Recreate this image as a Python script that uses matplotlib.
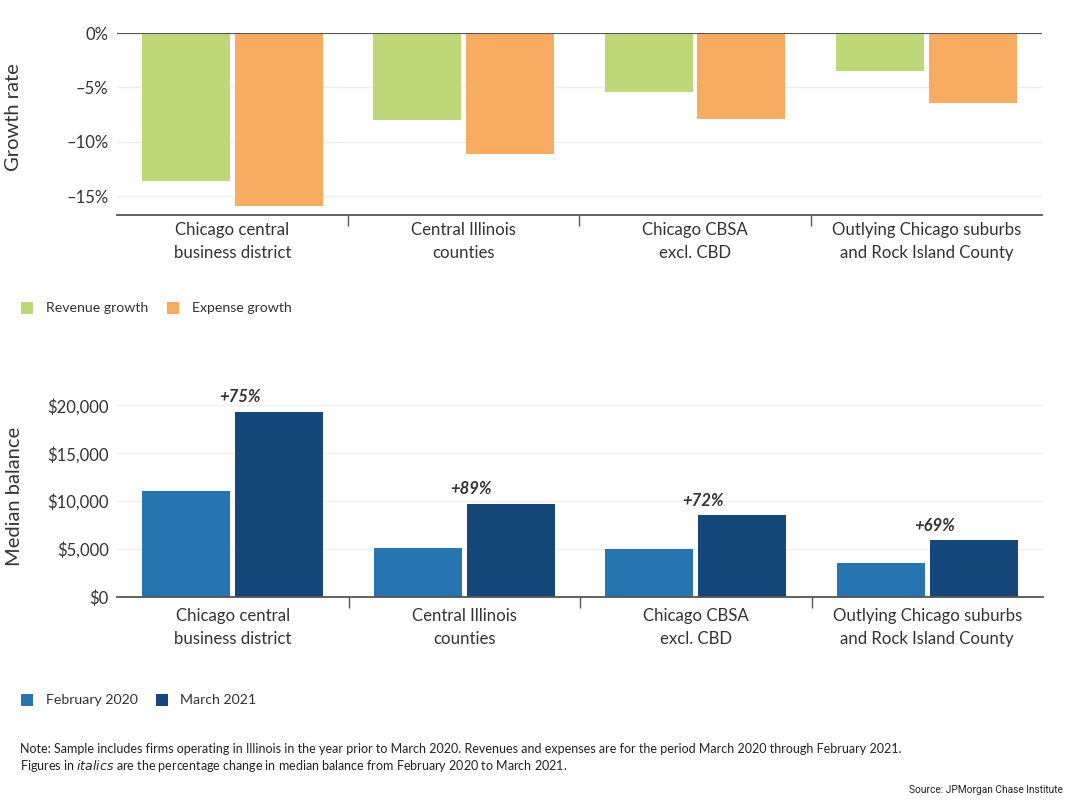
import matplotlib
matplotlib.use("Agg")
import matplotlib.pyplot as plt
from matplotlib.patches import Rectangle
import numpy as np

# ---------------- data ----------------
categories = ["Chicago central\nbusiness district", "Central Illinois\ncounties",
              "Chicago CBSA\nexcl. CBD", "Outlying Chicago suburbs\nand Rock Island County"]
revenue_growth = [-13.6, -8.0, -5.4, -3.5]
expense_growth = [-15.9, -11.1, -7.9, -6.4]
growth_ticks = [0, -5, -10, -15]
growth_ticklabels = ["0%", "\u20135%", "\u201310%", "\u201315%"]

balance_feb2020 = [11060, 5150, 4970, 3510]
balance_mar2021 = [19330, 9740, 8550, 5950]
pct_change = ["+75%", "+89%", "+72%", "+69%"]
balance_ticks = [0, 5000, 10000, 15000, 20000]
balance_ticklabels = ["$0", "$5,000", "$10,000", "$15,000", "$20,000"]

# ---------------- style ----------------
plt.rcParams['font.family'] = ['Lato', 'DejaVu Sans']
TXT = "#333333"
AX = "#555555"
GRID = "#EEEEEE"
C_REV = "#BED778"
C_EXP = "#F8AC61"
C_FEB = "#2675B0"
C_MAR = "#16477A"

W, H = 1071, 801
fig = plt.figure(figsize=(W / 100, H / 100), dpi=100)
fig.patch.set_facecolor("white")

def fr(l, t, r, b):
    return [l / W, (H - b) / H, (r - l) / W, (b - t) / H]

x = np.arange(len(categories))
bw = 0.38
off = 0.2

def style_axis(ax, ticks, ticklabels, ylim, pad_cat):
    ax.set_xlim(-0.5, len(categories) - 0.5)
    ax.set_ylim(*ylim)
    for s in ["top", "right", "left"]:
        ax.spines[s].set_visible(False)
    ax.spines["bottom"].set_color(AX)
    ax.spines["bottom"].set_linewidth(1.3)
    ax.set_yticks(ticks)
    ax.set_yticklabels(ticklabels, fontsize=12, color=TXT)
    ax.tick_params(axis="y", length=0, pad=6)
    ax.yaxis.grid(True, color=GRID, linewidth=1)
    ax.set_axisbelow(True)
    ax.set_xticks(x)
    ax.set_xticklabels(categories, fontsize=12.1, color=TXT, linespacing=1.5)
    ax.tick_params(axis="x", which="major", length=0, pad=pad_cat)
    ax.set_xticks(x[:-1] + 0.5, minor=True)
    ax.tick_params(axis="x", which="minor", length=8, width=1, color=AX, direction="out")

# ---------------- top chart ----------------
ax1 = fig.add_axes(fr(116.7, 33, 1042, 215.3))
ax1.bar(x - off, revenue_growth, bw, color=C_REV, zorder=2)
ax1.bar(x + off, expense_growth, bw, color=C_EXP, zorder=2)
ax1.axhline(0, color=AX, linewidth=1.5, zorder=3)
style_axis(ax1, growth_ticks, growth_ticklabels, (-16.75, 0), 5)
ax1.set_ylabel("Growth rate", fontsize=14.5, color=TXT)
ax1.yaxis.set_label_coords(-0.1025, 0.536)

# ---------------- bottom chart ----------------
ax2 = fig.add_axes(fr(117, 395.7, 1043, 597))
ax2.bar(x - off, balance_feb2020, bw, color=C_FEB, zorder=2)
ax2.bar(x + off, balance_mar2021, bw, color=C_MAR, zorder=2)
style_axis(ax2, balance_ticks, balance_ticklabels, (0, 21000), 8)
ax2.set_ylabel("Median balance", fontsize=14.5, color=TXT)
ax2.yaxis.set_label_coords(-0.1015, 0.5)
for i, lab in enumerate(pct_change):
    ax2.annotate(lab, xy=(x[i] + 0.03, balance_mar2021[i]), xytext=(0, 4.5),
                 textcoords="offset points", ha="center", va="bottom",
                 fontsize=12, fontweight="bold", fontstyle="italic", color=TXT)

# ---------------- legends (figure pixel coords) ----------------
def legend_item(xsq, ysq_center, color, label, xtext):
    fig.patches.append(Rectangle((xsq / W, (H - ysq_center - 6) / H), 12 / W, 12 / H,
                                 transform=fig.transFigure, facecolor=color,
                                 edgecolor="none", figure=fig))
    fig.text(xtext / W, (H - ysq_center) / H, label, fontsize=10.2, color=TXT,
             ha="left", va="center")

legend_item(21, 308.3, C_REV, "Revenue growth", 45.7)
legend_item(167.3, 308.3, C_EXP, "Expense growth", 191.7)
legend_item(21, 700, C_FEB, "February 2020", 45.7)
legend_item(155.7, 700, C_MAR, "March 2021", 180.3)

# ---------------- footer ----------------
fig.text(20 / W, (H - 749.3) / H,
         "Note: Sample includes firms operating in Illinois in the year prior to March 2020. "
         "Revenues and expenses are for the period March 2020 through February 2021.",
         fontsize=9, color="#222222", ha="left", va="center")
fig.text(20 / W, (H - 765.7) / H,
         "Figures in $\\it{italics}$ are the percentage change in median balance from "
         "February 2020 to March 2021.",
         fontsize=9, color="#222222", ha="left", va="center")
fig.text(1063 / W, (H - 790) / H, "Source: JPMorgan Chase Institute",
         fontsize=7.3, color="#222222", ha="right", va="center",
         family=["Roboto", "DejaVu Sans"])

fig.savefig("out.png", dpi=100, facecolor="white")
